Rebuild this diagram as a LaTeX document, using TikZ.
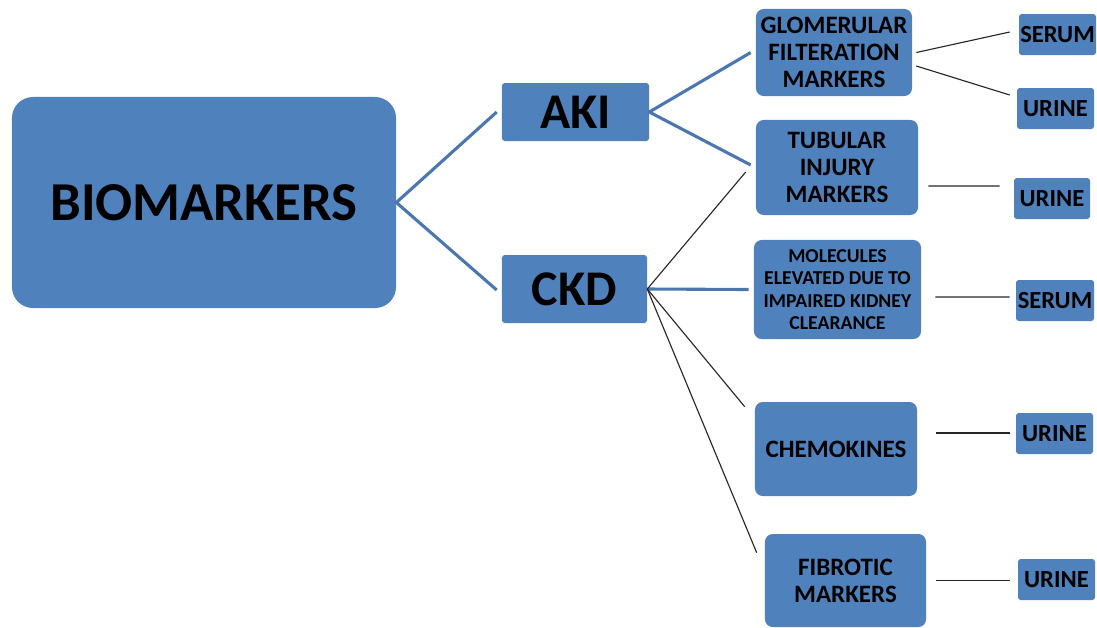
\documentclass[tikz,border=0pt]{standalone}
\usepackage{fontspec}
\setmainfont{Carlito}
\usetikzlibrary{calc}

\definecolor{boxblue}{HTML}{4F81BD}
\definecolor{linkblue}{HTML}{4A77B0}

\tikzset{
    box/.style={fill=boxblue, inner sep=0pt, align=center, font=\bfseries},
    bigbox/.style={box, rounded corners=15pt, font=\bfseries\fontsize{39}{46}\selectfont},
    kindbox/.style={box, rounded corners=2pt, font=\bfseries\fontsize{35.5}{42}\selectfont},
    groupbox/.style={box, rounded corners=5.5pt, font=\bfseries\fontsize{17.8}{19.2}\selectfont},
    samplebox/.style={box, rounded corners=2pt, font=\bfseries\fontsize{17.5}{19.2}\selectfont},
    thick link/.style={linkblue, line width=2.2pt},
    thin link/.style={black!85, line width=0.8pt}
}

\begin{document}
\begin{tikzpicture}[x=0.025cm, y=-0.025cm]
        % 1 unit = 1 px of the reference, y grows downward
        \useasboundingbox (0,0) rectangle (1097,627);

        % main box and the two disease types
        \node [bigbox, minimum width=384*0.7113pt, minimum height=211*0.7113pt]
            (bio) at (204,202.5) {BIOMARKERS};
        \node [kindbox, minimum width=147*0.7113pt, minimum height=58*0.7113pt]
            (aki) at (575.5,112) {AKI};
        \node [kindbox, minimum width=145*0.7113pt, minimum height=68*0.7113pt]
            (ckd) at (574.5,289) {CKD};

        % marker groups
        \node [groupbox, minimum width=156*0.7113pt, minimum height=87*0.7113pt]
            (glom) at (834,52.5) {GLOMERULAR\\FILTERATION\\MARKERS};
        \node [groupbox, minimum width=162*0.7113pt, minimum height=95*0.7113pt]
            (tub) at (837,167.5) {TUBULAR\\INJURY\\MARKERS};
        \node [groupbox, minimum width=167*0.7113pt, minimum height=99*0.7113pt,
               font=\bfseries\fontsize{14}{15.9}\selectfont]
            (mol) at (837.5,289.5) {MOLECULES\\ELEVATED DUE TO\\IMPAIRED KIDNEY\\CLEARANCE};
        \node [groupbox, minimum width=162*0.7113pt, minimum height=94*0.7113pt]
            (chem) at (836,449) {CHEMOKINES};
        \node [groupbox, minimum width=161*0.7113pt, minimum height=93*0.7113pt]
            (fib) at (845.5,580.5) {FIBROTIC\\MARKERS};

        % samples
        \node [samplebox, minimum width=77*0.7113pt, minimum height=41*0.7113pt]
            (serumA) at (1057.5,34.5) {SERUM};
        \node [samplebox, minimum width=77*0.7113pt, minimum height=41*0.7113pt]
            (urineA) at (1055.5,108.5) {URINE};
        \node [samplebox, minimum width=76*0.7113pt, minimum height=41*0.7113pt]
            (urineB) at (1052,198.5) {URINE};
        \node [samplebox, minimum width=78*0.7113pt, minimum height=41*0.7113pt]
            (serumB) at (1055,300.5) {SERUM};
        \node [samplebox, minimum width=77*0.7113pt, minimum height=41*0.7113pt]
            (urineC) at (1054.5,433.5) {URINE};
        \node [samplebox, minimum width=77*0.7113pt, minimum height=41*0.7113pt]
            (urineD) at (1056.5,579.5) {URINE};

        % blue links
        \draw [thick link] ($(aki.west)+(-5,0)$) -- (bio.east) -- ($(ckd.west)+(-5,1)$);
        \draw [thick link] ($(glom.west)+(-5,0)$) -- (aki.east) -- ($(tub.west)+(-5,-2.5)$);
        \draw [thick link] (ckd.east) -- ($(mol.west)+(-5,0)$);

        % thin links out of CKD
        \draw [thin link] ($(tub.west)+(-10,4.5)$) -- (ckd.east)
            -- ($(chem.north west)+(-10,5)$);
        \draw [thin link] (ckd.east) -- ($(fib.north west)+(-8,19)$);

        % thin links to the samples
        \draw [thin link] ($(glom.east)+(4,0)$) -- ($(serumA.west)+(-9,-2.5)$);
        \draw [thin link] ($(glom.east)+(4,13.5)$) -- ($(urineA.west)+(-7,-13.5)$);
        \draw [thin link] ($(tub.east)+(10,18.5)$) -- ($(urineB.west)+(-14,-12.5)$);
        \draw [thin link] ($(mol.east)+(14,7.5)$) -- ($(serumB.west)+(-6,-3.5)$);
        \draw [thin link] ($(chem.east)+(19,-16)$) -- ($(urineC.west)+(-6,-0.5)$);
        \draw [thin link] ($(fib.east)+(10,0)$) -- ($(urineD.west)+(-8,1)$);
    \end{tikzpicture}
\end{document}
